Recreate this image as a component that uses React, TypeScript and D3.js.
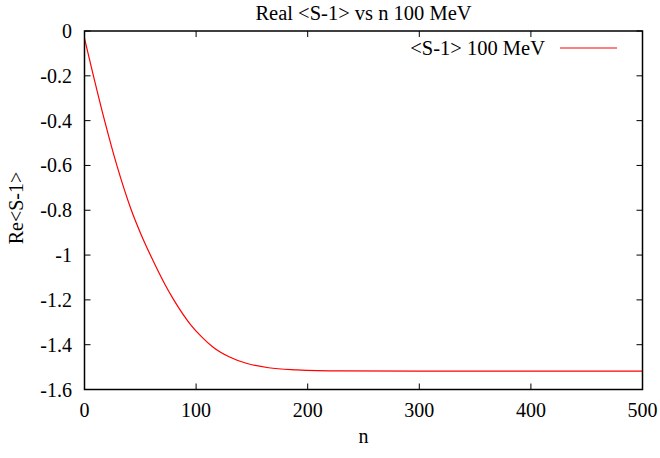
import React from "react";
import * as d3 from "d3";

const nValues = [0, 8, 18, 29, 42, 50, 60, 72, 80, 95, 105, 115, 130, 145, 165, 190, 230, 300, 400, 500];
const reValues = [-0.033, -0.2, -0.4, -0.6, -0.8, -0.9, -1.01, -1.13, -1.2, -1.31, -1.365, -1.41, -1.455, -1.483, -1.503, -1.512, -1.517, -1.518, -1.518, -1.518];
const xTicks = [0, 100, 200, 300, 400, 500];
const yTicks = [0, -0.2, -0.4, -0.6, -0.8, -1, -1.2, -1.4, -1.6];
const title = "Real <S-1> vs n 100 MeV";
const xLabel = "n";
const yLabel = "Re<S-1>";
const seriesName = "<S-1> 100 MeV";

const W = 660, H = 458;
const L = 84.5, R = 642.5, T = 31, B = 389.5;
const FONT = "'Liberation Serif', 'Times New Roman', serif";

export default function App() {
  const x = d3.scaleLinear().domain([0, 500]).range([L, R]);
  const y = d3.scaleLinear().domain([-1.6, 0]).range([B, T]);
  const pts = nValues.map((n, i) => [n, reValues[i]] as [number, number]);
  const line = d3.line<[number, number]>().x(d => x(d[0])).y(d => y(d[1])).curve(d3.curveMonotoneX);
  const tl = 6;
  return (
    <svg width={W} height={H} style={{ position: "absolute", left: 0, top: 0 }} fontFamily={FONT}>
      <rect x={0} y={0} width={W} height={H} fill="white" />
      {xTicks.map(t => (
        <g key={"x" + t}>
          <line x1={x(t)} x2={x(t)} y1={B} y2={B - tl} stroke="black" strokeWidth={1} />
          <line x1={x(t)} x2={x(t)} y1={T} y2={T + tl} stroke="black" strokeWidth={1} />
          <text x={x(t)} y={417} textAnchor="middle" fontSize={20} fill="black">{t}</text>
        </g>
      ))}
      {yTicks.map(t => (
        <g key={"y" + t}>
          <line x1={L} x2={L + tl} y1={y(t)} y2={y(t)} stroke="black" strokeWidth={1} />
          <line x1={R} x2={R - tl} y1={y(t)} y2={y(t)} stroke="black" strokeWidth={1} />
          <text x={72} y={y(t) + 7} textAnchor="end" fontSize={20} fill="black">{String(t)}</text>
        </g>
      ))}
      <path d={line(pts) ?? ""} fill="none" stroke="#ff0000" strokeWidth={1.2} />
      <rect x={L} y={T} width={R - L} height={B - T} fill="none" stroke="black" strokeWidth={1.5} />
      <text x={(L + R) / 2} y={20} textAnchor="middle" fontSize={20.5} fill="black">{title}</text>
      <text x={(L + R) / 2} y={443} textAnchor="middle" fontSize={20} fill="black">{xLabel}</text>
      <text transform={`translate(23,208) rotate(-90)`} textAnchor="middle" fontSize={20} fill="black">{yLabel}</text>
      <text x={545} y={55} textAnchor="end" fontSize={20.5} fill="black">{seriesName}</text>
      <line x1={560} x2={617} y1={48} y2={48} stroke="#ff0000" strokeWidth={1.2} />
    </svg>
  );
}
